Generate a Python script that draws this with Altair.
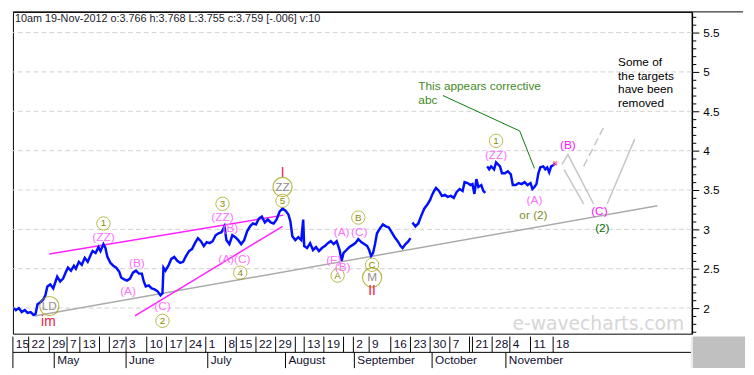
import altair as alt
import pandas as pd

# ---------------- price path (bar index, price), three continuous runs ----------------
run1_bar = [9, 11, 14, 17, 20, 23, 26, 29, 31, 33, 36, 39, 41, 43, 46, 49, 51, 53, 56, 59, 62, 64, 67, 70, 72, 75,
            78, 81, 84, 87, 89, 92, 95, 97, 100, 102, 104, 107, 110, 113, 116, 118, 121, 124, 127, 130, 133, 136,
            139, 141, 143, 146, 149, 152, 155, 158, 160, 161, 163, 166, 169, 172, 175, 178, 181, 184, 187, 190,
            193, 196, 199, 202, 205, 208, 211, 214, 217, 220, 223, 225, 228, 231, 234, 237, 240, 243, 246, 249,
            252, 255, 258, 261, 264, 267, 270, 273, 276, 279, 282, 285, 288, 290, 292, 295, 298, 301, 303, 304,
            307, 310, 313, 316, 319, 322, 325, 328, 331, 334, 337, 340, 342, 344, 347, 350, 353, 356, 359, 362,
            365, 368, 370, 372, 374, 376, 378, 381, 384, 387, 390, 393, 396, 399, 402, 404, 407, 410, 412]
run1_price = [2.000, 1.975, 2.000, 1.950, 1.975, 1.938, 1.950, 1.913, 1.925, 2.050, 2.075, 2.113, 2.163, 2.275,
              2.300, 2.250, 2.325, 2.400, 2.338, 2.375, 2.463, 2.513, 2.475, 2.538, 2.500, 2.588, 2.550, 2.638,
              2.588, 2.675, 2.725, 2.700, 2.775, 2.725, 2.813, 2.763, 2.650, 2.575, 2.538, 2.513, 2.463, 2.388,
              2.363, 2.350, 2.375, 2.450, 2.475, 2.438, 2.438, 2.338, 2.275, 2.288, 2.250, 2.238, 2.213, 2.163,
              2.188, 2.513, 2.475, 2.538, 2.625, 2.650, 2.600, 2.575, 2.588, 2.663, 2.725, 2.750, 2.825, 2.888,
              2.850, 2.788, 2.838, 2.825, 2.850, 2.925, 2.950, 2.963, 3.038, 2.863, 2.813, 2.925, 2.900, 2.863,
              2.813, 2.863, 2.975, 3.038, 3.075, 3.063, 3.138, 3.163, 3.088, 3.125, 3.088, 3.075, 3.125, 3.225,
              3.263, 3.238, 3.188, 3.100, 2.913, 2.863, 2.900, 2.863, 3.125, 2.788, 2.763, 2.825, 2.738, 2.775,
              2.725, 2.763, 2.788, 2.825, 2.850, 2.813, 2.850, 2.738, 2.600, 2.700, 2.738, 2.775, 2.800, 2.825,
              2.875, 2.838, 2.813, 2.788, 2.738, 2.663, 2.700, 2.813, 2.950, 3.013, 3.063, 3.038, 3.025, 2.963,
              2.900, 2.850, 2.788, 2.763, 2.813, 2.850, 2.888]
run2_bar = [414, 417, 420, 423, 426, 429, 432, 434, 436, 438, 441, 444, 447, 450, 453, 456, 459, 462, 465, 467,
            470, 473, 475, 477, 479, 481, 484, 486, 488]
run2_price = [3.088, 3.038, 3.075, 3.175, 3.263, 3.313, 3.375, 3.438, 3.488, 3.525, 3.488, 3.425, 3.438, 3.413,
              3.425, 3.400, 3.475, 3.513, 3.488, 3.600, 3.588, 3.563, 3.575, 3.450, 3.638, 3.538, 3.563, 3.488,
              3.463]
run3_bar = [490, 492, 494, 497, 499, 501, 503, 505, 508, 511, 514, 516, 519, 522, 525, 528, 531, 534, 536, 538,
            540, 542, 544, 547, 549, 551, 553, 555, 557, 559]
run3_price = [3.800, 3.763, 3.800, 3.763, 3.850, 3.825, 3.800, 3.713, 3.713, 3.738, 3.700, 3.563, 3.563, 3.588,
              3.575, 3.600, 3.563, 3.588, 3.513, 3.538, 3.575, 3.713, 3.788, 3.800, 3.763, 3.788, 3.725, 3.800,
              3.813, 3.838]

# ---------------- axis labels ----------------
y_tick_values = [1.7, 1.8, 1.9, 2.0, 2.1, 2.2, 2.3, 2.4, 2.5, 2.6, 2.7, 2.8, 2.9, 3.0, 3.1, 3.2, 3.3, 3.4, 3.5,
                 3.6, 3.7, 3.8, 3.9, 4.0, 4.1, 4.2, 4.3, 4.4, 4.5, 4.6, 4.7, 4.8, 4.9, 5.0, 5.1, 5.2, 5.3, 5.4,
                 5.5, 5.6, 5.7]
grid_levels = [2.0, 2.5, 3.0, 3.5, 4.0, 4.5, 5.0, 5.5]
week_bar = [8, 24, 45, 63, 76, 96, 106, 123, 144, 164, 184, 204, 224, 235, 255, 275, 295, 304, 324, 344, 354,
            370, 392, 412, 432, 452, 472, 475, 495, 513, 534, 557]
week_labels = ["15", "22", "29", "7", "13", "", "27", "3", "10", "17", "24", "1", "8", "15", "22", "29", "",
               "13", "19", "", "2", "9", "16", "23", "30", "7", "", "21", "28", "4", "11", "18"]
month_bar = [8, 50, 123, 206, 285, 355, 434, 509]
month_labels = ["", "May", "June", "July", "August", "September", "October", "November"]

# ---------------- trend / target lines ----------------
pink_line_id = ["upper", "upper", "lower", "lower"]
pink_line_bar = [45, 283, 132, 282]
pink_line_price = [2.688, 3.181, 1.900, 3.038]
base_line_bar = [30, 663]
base_line_price = [1.900, 3.300]
target_id = ["t1", "t1", "t1", "t2", "t2", "t4", "t4"]
target_bar = [566, 572, 598, 568, 588, 612, 640]
target_price = [3.825, 3.950, 3.325, 3.763, 3.325, 3.325, 4.150]
target_dash_bar = [588, 608]
target_dash_price = [3.800, 4.288]
pointer_bar = [445, 523, 538]
pointer_price = [4.700, 4.250, 3.775]

# ---------------- wave labels ----------------
circ_text = ["1", "2", "3", "4", "5", "B", "A", "C", "1"]
circ_bar = [100, 160, 221, 239, 282, 359, 338, 373, 499]
circ_price = [3.075, 1.838, 3.325, 2.450, 3.363, 3.150, 2.413, 2.550, 4.125]
bigcirc_text = ["LD", "ZZ", "M"]
bigcirc_bar = [45, 282, 373]
bigcirc_price = [2.025, 3.538, 2.388]
pink_text = ["(ZZ)", "(B)", "(A)", "(C)", "(ZZ)", "(B)", "(A)(C)", "(A)", "(C)", "(F)", "(B)", "(ZZ)", "(A)"]
pink_bar = [100, 134, 125, 160, 221, 229, 233, 342, 360, 334, 343, 499, 538]
pink_price = [2.900, 2.575, 2.213, 2.025, 3.150, 3.013, 2.625, 2.963, 2.963, 2.613, 2.525, 3.950, 3.375]
magenta_text = ["(B)", "(C)"]
magenta_bar = [572, 604]
magenta_price = [4.075, 3.238]
red_text = ["im", "I", "II"]
red_bar = [44, 282, 373]
red_price = [1.825, 3.713, 2.213]

header = "10am 19-Nov-2012  o:3.766 h:3.768 L:3.755 c:3.759 [-.006] v:10"

X_DOMAIN = [8, 698]
Y_DOMAIN = [1.675, 5.7625]
xs = alt.Scale(domain=X_DOMAIN, nice=False, zero=False)
ys = alt.Scale(domain=Y_DOMAIN, nice=False, zero=False)
FONT = "Liberation Sans"

price_df = pd.DataFrame({
    "bar": run1_bar + run2_bar + run3_bar,
    "price": run1_price + run2_price + run3_price,
    "run": ["a"] * len(run1_bar) + ["b"] * len(run2_bar) + ["c"] * len(run3_bar),
})

major = "abs(datum.value*2 - round(datum.value*2)) < 0.001"
yaxis = alt.Axis(
    orient="right", values=y_tick_values, title=None, grid=False,
    labelExpr=f"({major}) ? toString(datum.value) : ''",
    labelFont=FONT, labelFontSize=12, labelColor="#000", labelPadding=4,
    tickColor="#000", tickWidth=1,
    tickSize={"condition": {"test": major, "value": 7}, "value": 4},
    domainColor="#000", domainWidth=1.5,
)

X = lambda: alt.X("bar:Q", scale=xs, axis=None)
Y = lambda: alt.Y("price:Q", scale=ys, axis=yaxis, title=None)

grid = alt.Chart(pd.DataFrame({"price": grid_levels})).mark_rule(
    color="#d2d2d2", strokeDash=[5, 3], strokeWidth=1
).encode(y=Y())

base_line = alt.Chart(pd.DataFrame({"bar": base_line_bar, "price": base_line_price})).mark_line(
    color="#ababab", strokeWidth=1.5).encode(x=X(), y=Y())
pink_lines = alt.Chart(pd.DataFrame({"id": pink_line_id, "bar": pink_line_bar, "price": pink_line_price})).mark_line(
    color="#ff22ff", strokeWidth=1.5).encode(x=X(), y=Y(), detail="id:N")
targets = alt.Chart(pd.DataFrame({"id": target_id, "bar": target_bar, "price": target_price})).mark_line(
    color="#c6c6c6", strokeWidth=1.5).encode(x=X(), y=Y(), detail="id:N")
target_dash = alt.Chart(pd.DataFrame({"bar": target_dash_bar, "price": target_dash_price})).mark_line(
    color="#c6c6c6", strokeWidth=1.5, strokeDash=[8, 4]).encode(x=X(), y=Y())
pointer = alt.Chart(pd.DataFrame({"bar": pointer_bar, "price": pointer_price})).mark_line(
    color="#0a7a0a", strokeWidth=1).encode(x=X(), y=Y())

price = alt.Chart(price_df).mark_line(color="#0010ff", strokeWidth=2.5, strokeJoin="miter").encode(
    x=X(), y=Y(), detail="run:N")

last_mark = alt.Chart(pd.DataFrame({"bar": [run3_bar[-1]], "price": [run3_price[-1]]})).mark_point(
    shape="cross", angle=45, size=30, color="#ff5090", filled=True).encode(x=X(), y=Y())

circ_df = pd.DataFrame({"bar": circ_bar, "price": circ_price, "t": circ_text})
circles = alt.Chart(circ_df).mark_point(shape="circle", filled=False, color="#9c9c00", strokeWidth=1,
                                        size=185).encode(x=X(), y=Y())
circ_txt = alt.Chart(circ_df).mark_text(font=FONT, fontSize=10, color="#8a8a00").encode(x=X(), y=Y(), text="t:N")

big_df = pd.DataFrame({"bar": bigcirc_bar, "price": bigcirc_price, "t": bigcirc_text})
bigcircles = alt.Chart(big_df).mark_point(shape="circle", filled=False, color="#9c9c00", strokeWidth=1.2,
                                          size=380).encode(x=X(), y=Y())
big_txt = alt.Chart(big_df).mark_text(font=FONT, fontSize=12, color="#8f8f8f").encode(x=X(), y=Y(), text="t:N")

pink_txt = alt.Chart(pd.DataFrame({"bar": pink_bar, "price": pink_price, "t": pink_text})).mark_text(
    font=FONT, fontSize=12, color="#ff70ff").encode(x=X(), y=Y(), text="t:N")
magenta_txt = alt.Chart(pd.DataFrame({"bar": magenta_bar, "price": magenta_price, "t": magenta_text})).mark_text(
    font=FONT, fontSize=12, color="#ff10ff").encode(x=X(), y=Y(), text="t:N")
red_txt = alt.Chart(pd.DataFrame({"bar": red_bar, "price": red_price, "t": red_text})).mark_text(
    font=FONT, fontSize=14, color="#f01848").encode(x=X(), y=Y(), text="t:N")
or2_txt = alt.Chart(pd.DataFrame({"bar": [537], "price": [3.188], "t": ["or (2)"]})).mark_text(
    font=FONT, fontSize=12, color="#7d8f2a").encode(x=X(), y=Y(), text="t:N")
green2_txt = alt.Chart(pd.DataFrame({"bar": [607], "price": [3.013], "t": ["(2)"]})).mark_text(
    font=FONT, fontSize=12, color="#0a6a0a").encode(x=X(), y=Y(), text="t:N")

corrective = alt.Chart(pd.DataFrame({"bar": [420], "price": [4.888], "t": ["This appears corrective\nabc"]})).mark_text(
    font=FONT, fontSize=12, color="#3f8a24", align="left", baseline="top", lineBreak="\n", lineHeight=15
).encode(x=X(), y=Y(), text="t:N")
removed = alt.Chart(pd.DataFrame({"bar": [623], "price": [5.19], "t": ["Some of\nthe targets\nhave been\nremoved"]})).mark_text(
    font=FONT, fontSize=12, color="#000", align="left", baseline="top", lineBreak="\n", lineHeight=14
).encode(x=X(), y=Y(), text="t:N")
watermark = alt.Chart(pd.DataFrame({"bar": [603], "price": [1.80], "t": ["e-wavecharts.com"]})).mark_text(
    font="DejaVu Sans", fontSize=19, color="#d6d6d6").encode(x=X(), y=Y(), text="t:N")
head = alt.Chart(pd.DataFrame({"bar": [10], "price": [5.75], "t": [header]})).mark_text(
    font=FONT, fontSize=11, color="#1c1c2c", align="left", baseline="top").encode(x=X(), y=Y(), text="t:N")
top_edge = alt.Chart(pd.DataFrame({"bar": [8], "bar2": [750], "price": [5.7625]})).mark_rule(
    color="#000", strokeWidth=1, clip=False).encode(x=X(), x2="bar2:Q", y=Y())

main = alt.layer(
    grid, watermark, base_line, pink_lines, targets, target_dash, pointer, price, last_mark,
    circles, circ_txt, bigcircles, big_txt, pink_txt, magenta_txt, red_txt, or2_txt, green2_txt,
    corrective, removed, head, top_edge,
).properties(width=690, height=327, view=alt.ViewBackground(stroke="#000", strokeWidth=1, fill="#fff"))

# ---------------- bottom date strip ----------------
rs = alt.Scale(domain=[0, 2], nice=False, zero=False)
XB = lambda: alt.X("bar:Q", scale=xs, axis=None)
week_df = pd.DataFrame({"bar": week_bar, "label": week_labels, "lo": 1, "hi": 2, "mid": 1.5})
month_df = pd.DataFrame({"bar": month_bar, "label": month_labels, "lo": 0, "hi": 1, "mid": 0.5})
sep_df = pd.concat([week_df, month_df])

seps = alt.Chart(sep_df).mark_rule(color="#000", strokeWidth=1).encode(
    x=XB(), y=alt.Y("lo:Q", scale=rs, axis=None), y2="hi:Q")
labels = alt.Chart(sep_df).mark_text(font=FONT, fontSize=12, color="#101030", align="left", dx=3).encode(
    x=XB(), y=alt.Y("mid:Q", scale=rs, axis=None), text="label:N")
midline = alt.Chart(pd.DataFrame({"row": [1]})).mark_rule(color="#000", strokeWidth=1).encode(
    y=alt.Y("row:Q", scale=rs, axis=None))
corner = alt.Chart(pd.DataFrame({"bar": [699], "bar2": [752], "lo": [0], "hi": [2]})).mark_rect(
    color="#c0c0c0", clip=False).encode(x=XB(), x2="bar2:Q", y=alt.Y("lo:Q", scale=rs, axis=None), y2="hi:Q")
edge = alt.Chart(pd.DataFrame({"bar": [698]})).mark_rule(color="#e8e8e8", strokeWidth=2).encode(x=XB())

strip = alt.layer(corner, midline, seps, labels, edge).properties(
    width=690, height=32, view=alt.ViewBackground(stroke="transparent", fill="#fff"))

chart = alt.vconcat(main, strip, spacing=0).properties(padding=0, background="#fff").configure_view(
    stroke="transparent")

chart.save("out.html", embed_options={"renderer": "svg", "actions": False})
